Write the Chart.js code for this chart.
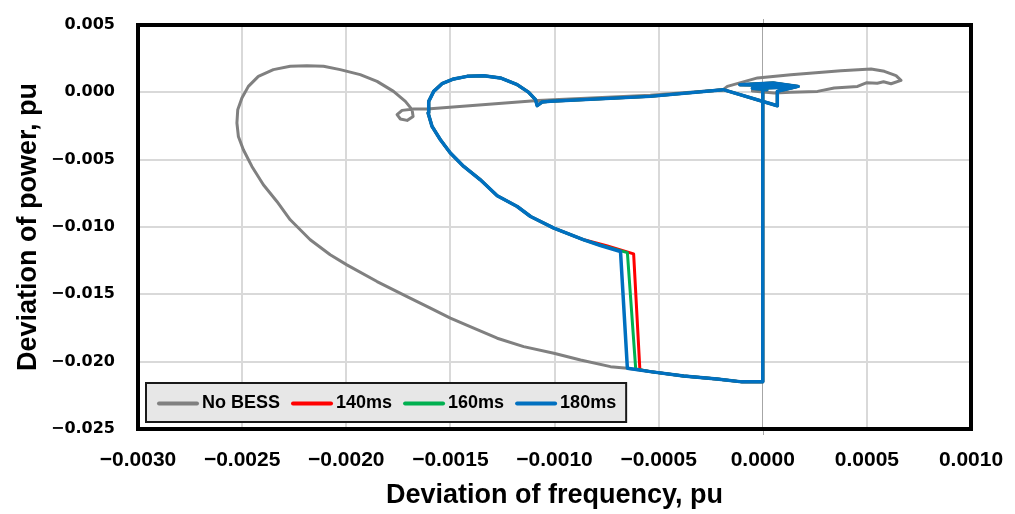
<!DOCTYPE html>
<html>
<head>
<meta charset="utf-8">
<title>Deviation of power vs deviation of frequency</title>
<script src="https://cdn.jsdelivr.net/npm/chart.js@4.4.1/dist/chart.umd.min.js"></script>
<style>
  html, body { margin: 0; padding: 0; background: #fff; }
  #wrap { width: 1015px; height: 514px; }
</style>
</head>
<body>
<div id="wrap"><canvas id="pf" width="1015" height="514"></canvas></div>
<script>
// series labels (legend order)
var seriesNames = ["No BESS", "140ms", "160ms", "180ms"];
var seriesColors = ["#808080", "#ff0000", "#00b050", "#0070c0"];

// axis ticks
var freqTicks = [-0.003, -0.0025, -0.002, -0.0015, -0.001, -0.0005, 0, 0.0005, 0.001];
var powerTicks = [-0.025, -0.02, -0.015, -0.01, -0.005, 0, 0.005];

// No BESS trajectory: frequency deviation (pu) / power deviation (pu)
var noBessX = [0, 0, -0.0001, -0.00022, -0.00038, -0.00054, -0.00065, -0.000731, -0.000875, -0.001003,
    -0.001148, -0.001275, -0.001388, -0.0015, -0.001596, -0.001708, -0.001852, -0.001997, -0.002077, -0.002173,
    -0.002269, -0.002333, -0.002398, -0.002453, -0.002494, -0.002518, -0.002525, -0.002521, -0.002501, -0.00247,
    -0.002422, -0.00235, -0.002269, -0.002189, -0.002109, -0.002029, -0.001933, -0.001852, -0.001773, -0.001716,
    -0.001684, -0.001679, -0.001708, -0.00174, -0.001756, -0.001732, -0.001676, -0.001612, -0.00108, -0.00054,
    -0.00019, -0.00017, -0.000025, 0.000135, 0.000375, 0.00052, 0.000584, 0.00064, 0.000664, 0.000616,
    0.00058, 0.00055, 0.0005, 0.000455, 0.000343, 0.000263, 0.000135, 0.000055, -0.00005];
var noBessY = [0.0001, -0.0215, -0.0215, -0.02128, -0.02106, -0.02074, -0.02049, -0.02037, -0.019871, -0.019373,
    -0.018883, -0.018258, -0.017515, -0.016772, -0.016028, -0.015166, -0.014051, -0.01281, -0.012066, -0.010951,
    -0.009465, -0.008105, -0.006863, -0.005503, -0.004262, -0.003273, -0.002277, -0.001288, -0.000419, 0.000444,
    0.001187, 0.001685, 0.00193, 0.001982, 0.00193, 0.001685, 0.001313, 0.000815, 0.000072, -0.000671,
    -0.001288, -0.001786, -0.002084, -0.00198, -0.00166, -0.00134, -0.001236, -0.001236, -0.0006, -0.00022,
    0.0002, 0.00044, 0.00107, 0.00131, 0.00161, 0.00174, 0.00156, 0.00124, 0.00089, 0.00064,
    0.00078, 0.00068, 0.00072, 0.00044, 0.00032, 0.00007, 0.0, -0.00005, 0.0001];

// BESS switched in after 140 ms
var ms140X = [0, 0, -0.0001, -0.00022, -0.00038, -0.00054, -0.00059, -0.00062, -0.00075, -0.000859,
    -0.001003, -0.001115, -0.001179, -0.001275, -0.001356, -0.001436, -0.0015, -0.001548, -0.001588, -0.001607,
    -0.001604, -0.00158, -0.00154, -0.001484, -0.00142, -0.00134, -0.00126, -0.001179, -0.001124, -0.001091,
    -0.001083, -0.00106, -0.00102, -0.00054, -0.00019, 0.00007, 0.00007, 0.00017, 0.00005, -0.00011,
    0.00012, 0.00015, -0.00005, 0.00002];
var ms140Y = [0.0001, -0.0215, -0.0215, -0.02128, -0.02106, -0.02074, -0.0206, -0.011993, -0.01139, -0.010951,
    -0.010082, -0.009219, -0.008476, -0.007681, -0.006492, -0.005503, -0.004507, -0.003518, -0.00253, -0.001534,
    -0.000671, 0.000072, 0.000644, 0.000994, 0.001187, 0.001239, 0.001068, 0.00057, -0.000002, -0.000545,
    -0.000991, -0.00072, -0.00067, -0.0003, 0.0002, -0.001, 0.00007, 0.00044, 0.0007, 0.00057,
    0.0005, 0.0004, 0.0003, 0.0002];

// BESS switched in after 160 ms
var ms160X = [0, 0, -0.0001, -0.00022, -0.00038, -0.00054, -0.00061, -0.00065, -0.00077, -0.000859,
    -0.001003, -0.001115, -0.001179, -0.001275, -0.001356, -0.001436, -0.0015, -0.001548, -0.001588, -0.001607,
    -0.001604, -0.00158, -0.00154, -0.001484, -0.00142, -0.00134, -0.00126, -0.001179, -0.001124, -0.001091,
    -0.001083, -0.00106, -0.00102, -0.00054, -0.00019, 0.00007, 0.00007, 0.00017, 0.00005, -0.00011,
    0.00012, 0.00015, -0.00005, 0.00002];
var ms160Y = [0.0001, -0.0215, -0.0215, -0.02128, -0.02106, -0.02074, -0.02055, -0.0119, -0.01139, -0.010951,
    -0.010082, -0.009219, -0.008476, -0.007681, -0.006492, -0.005503, -0.004507, -0.003518, -0.00253, -0.001534,
    -0.000671, 0.000072, 0.000644, 0.000994, 0.001187, 0.001239, 0.001068, 0.00057, -0.000002, -0.000545,
    -0.000991, -0.00072, -0.00067, -0.0003, 0.0002, -0.001, 0.00007, 0.00044, 0.0007, 0.00057,
    0.0005, 0.0004, 0.0003, 0.0002];

// BESS switched in after 180 ms
var ms180X = [0, 0, -0.0001, -0.00022, -0.00038, -0.00054, -0.00065, -0.000683, -0.000779, -0.000859,
    -0.001003, -0.001115, -0.001179, -0.001275, -0.001356, -0.001436, -0.0015, -0.001548, -0.001588, -0.001607,
    -0.001604, -0.00158, -0.00154, -0.001484, -0.00142, -0.00134, -0.00126, -0.001179, -0.001124, -0.001091,
    -0.001083, -0.00106, -0.00102, -0.00054, -0.00019, 0.00007, 0.00007, 0.00017, 0.00005, -0.00011,
    0.00012, 0.00015, -0.00005, 0.00002];
var ms180Y = [0.0001, -0.0215, -0.0215, -0.02128, -0.02106, -0.02074, -0.02049, -0.011821, -0.011375, -0.010951,
    -0.010082, -0.009219, -0.008476, -0.007681, -0.006492, -0.005503, -0.004507, -0.003518, -0.00253, -0.001534,
    -0.000671, 0.000072, 0.000644, 0.000994, 0.001187, 0.001239, 0.001068, 0.00057, -0.000002, -0.000545,
    -0.000991, -0.00072, -0.00067, -0.0003, 0.0002, -0.001, 0.00007, 0.00044, 0.0007, 0.00057,
    0.0005, 0.0004, 0.0003, 0.0002];

var boldSans = '"Liberation Sans", Arial, sans-serif';
var legendFont = 'bold 18px "Liberation Sans", Arial, sans-serif';

function fmt(v, d){
    if (Math.abs(v) < 1e-12) v = 0;
    return v.toFixed(d).replace("-", "\u2212");
}

function toPoints(xs, ys){
    var pts = [];
    for (var i=0;i<xs.length;i++) {
        pts.push({x: xs[i], y: ys[i]});
    }
    return pts;
}

function makeSet(i, xs, ys, width, order){
    return {
        label: seriesNames[i],
        data: toPoints(xs, ys),
        showLine: true,
        borderColor: seriesColors[i],
        backgroundColor: seriesColors[i],
        borderWidth: width,
        borderJoinStyle: "round",
        borderCapStyle: "round",
        pointRadius: 0,
        pointHoverRadius: 0,
        tension: 0,
        order: order
    };
}

function isZero(c){
    return c.tick && Math.abs(c.tick.value) < 1e-12;
}

// thick black box round the plot area, plus the small marks where x = 0 crosses it
var plotFrame = {
    id: "plotFrame",
    afterDatasetsDraw: function(chart){
        var a = chart.chartArea, ctx = chart.ctx;
        var x0 = Math.round(chart.scales.x.getPixelForValue(0)) + 0.5;
        ctx.save();
        ctx.strokeStyle = "#a6a6a6";
        ctx.lineWidth = 1;
        ctx.beginPath();
        ctx.moveTo(x0, a.top - 6);
        ctx.lineTo(x0, a.top);
        ctx.moveTo(x0, a.bottom);
        ctx.lineTo(x0, a.bottom + 6);
        ctx.stroke();
        ctx.strokeStyle = "#000";
        ctx.lineWidth = 4;
        ctx.strokeRect(a.left, a.top, a.right - a.left, a.bottom - a.top);
        ctx.restore();
    }
};

// legend drawn as a grey box inside the bottom-left of the plot
var boxLegend = {
    id: "boxLegend",
    afterDraw: function(chart){
        var ctx = chart.ctx, a = chart.chartArea;
        var sets = chart.data.datasets;
        ctx.save();
        ctx.font = legendFont;
        var x0 = a.left + 8, y0 = a.bottom - 46, h = 39;
        var w = 13;
        for (var i=0;i<sets.length;i++) {
            w += 38 + 5 + ctx.measureText(sets[i].label).width + (i < sets.length - 1 ? 13 : 10);
        }
        ctx.fillStyle = "#e7e7e7";
        ctx.fillRect(x0, y0, w, h);
        ctx.strokeStyle = "#1a1a1a";
        ctx.lineWidth = 2;
        ctx.strokeRect(x0, y0, w, h);

        var cx = x0 + 13, cy = y0 + h / 2 + 1;
        ctx.textBaseline = "middle";
        ctx.textAlign = "left";
        for (var j=0;j<sets.length;j++) {
            ctx.strokeStyle = sets[j].borderColor;
            ctx.lineWidth = 4;
            ctx.lineCap = "round";
            ctx.beginPath();
            ctx.moveTo(cx, cy);
            ctx.lineTo(cx + 38, cy);
            ctx.stroke();
            cx += 38 + 5;
            ctx.fillStyle = "#000";
            ctx.fillText(sets[j].label, cx, cy);
            cx += ctx.measureText(sets[j].label).width + 13;
        }
        ctx.restore();
    }
};

var ctx = document.getElementById("pf").getContext("2d");
var chart = new Chart(ctx, {
    type: "scatter",
    data: {
        datasets: [
            makeSet(0, noBessX, noBessY, 3, 3),
            makeSet(1, ms140X, ms140Y, 3, 2),
            makeSet(2, ms160X, ms160Y, 3, 1),
            makeSet(3, ms180X, ms180Y, 3.5, 0)
        ]
    },
    options: {
        responsive: false,
        animation: false,
        devicePixelRatio: 1,
        layout: {autoPadding: false, padding: {top: 25, right: 44, bottom: 0, left: 0}},
        plugins: {legend: {display: false}, tooltip: {enabled: false}},
        scales: {
            x: {
                type: "linear",
                min: -0.003,
                max: 0.001,
                afterFit: function(s){ s.height = 85; },
                afterBuildTicks: function(s){
                    s.ticks = freqTicks.map(function(v){ return {value: v}; });
                },
                ticks: {
                    padding: 0,
                    color: "#000",
                    maxRotation: 0,
                    autoSkip: false,
                    font: {family: boldSans, size: 21, weight: "bold"},
                    callback: function(v){ return fmt(v, 4); }
                },
                grid: {
                    drawTicks: true,
                    tickLength: 19,
                    tickColor: "rgba(0,0,0,0)",
                    color: function(c){ return isZero(c) ? "#a6a6a6" : "#d9d9d9"; },
                    lineWidth: function(c){ return isZero(c) ? 1 : 2; }
                },
                border: {display: false},
                title: {
                    display: true,
                    text: "Deviation of frequency, pu",
                    color: "#000",
                    font: {family: boldSans, size: 27, weight: "bold"},
                    padding: {top: 0, bottom: 2}
                }
            },
            y: {
                type: "linear",
                min: -0.025,
                max: 0.005,
                afterFit: function(s){ s.width = 138; },
                afterBuildTicks: function(s){
                    s.ticks = powerTicks.map(function(v){ return {value: v}; });
                },
                ticks: {
                    padding: 0,
                    color: "#000",
                    font: {family: '"DejaVu Sans", sans-serif', size: 16, weight: "bold"},
                    callback: function(v){ return fmt(v, 3); }
                },
                grid: {drawTicks: true, tickLength: 23, tickColor: "rgba(0,0,0,0)", color: "#d9d9d9", lineWidth: 2},
                border: {display: false},
                title: {
                    display: true,
                    text: "Deviation of power, pu",
                    color: "#000",
                    font: {family: boldSans, size: 27, weight: "bold"},
                    padding: {top: 12, bottom: 0}
                }
            }
        }
    },
    plugins: [plotFrame, boxLegend]
});
</script>
</body>
</html>
